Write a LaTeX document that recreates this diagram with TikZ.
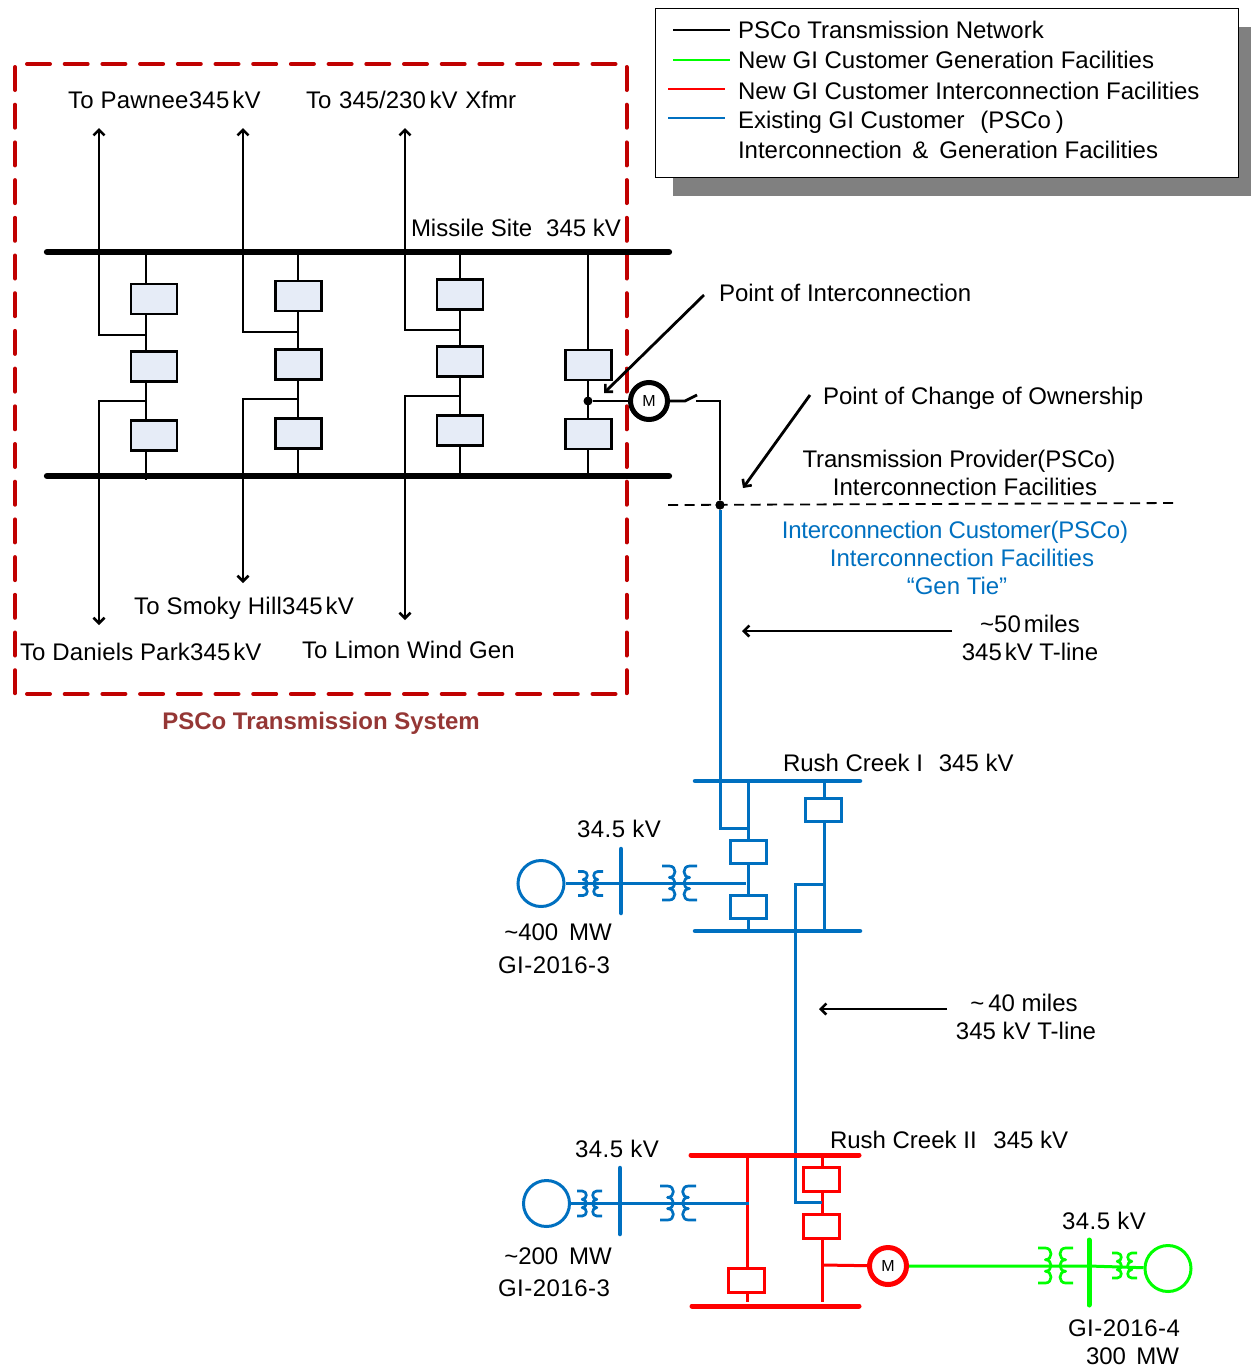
\documentclass[tikz,border=0pt]{standalone}
\usepackage{fontspec}
\setmainfont{Liberation Sans}
\newfontfamily\lsp[LetterSpace=2]{Liberation Sans}
\newfontfamily\lsa[LetterSpace=1.1]{Liberation Sans}
\newfontfamily\lsb[LetterSpace=.65]{Liberation Sans}
\newfontfamily\lsn[LetterSpace=-.6]{Liberation Sans}
\newfontfamily\lsm[LetterSpace=-1.1]{Liberation Sans}
\usetikzlibrary{arrows.meta}
\definecolor{dkred}{HTML}{C00000}
\definecolor{brk}{HTML}{E6ECF7}
\definecolor{cblue}{HTML}{0070C0}
\definecolor{cgreen}{HTML}{00FF00}
\definecolor{cred}{HTML}{FF0000}
\definecolor{sysred}{HTML}{953735}
\definecolor{shadow}{HTML}{808080}
\tikzset{
  x=1pt,y=-1pt,
  >={Straight Barb[length=5.5pt,width=11pt,line width=2.6pt]},
  lbl/.style={inner sep=0pt,outer sep=0pt,anchor=west,text height=17pt,text depth=0pt,font=\fontsize{24}{30}\selectfont},
  ctr/.style={lbl,anchor=center},
  blk/.style={draw=black,line width=2.8pt},
  arr/.style={blk,->},
  blu/.style={draw=cblue,line width=3pt},
  rd/.style={draw=cred,line width=3pt},
  grn/.style={draw=cgreen,line width=3pt},
  bbus/.style={draw=black,line width=6.3pt,line cap=round},
  blubus/.style={draw=cblue,line width=4.5pt,line cap=round},
  redbus/.style={draw=cred,line width=5pt,line cap=round},
  gbus/.style={draw=cgreen,line width=5pt,line cap=round},
  bkr/.style={draw=black,fill=brk,line width=2.8pt,minimum width=46pt,minimum height=30pt,inner sep=0pt},
  bkrb/.style={draw=cblue,fill=white,line width=3pt,minimum width=36pt,minimum height=23pt,inner sep=0pt},
  bkrr/.style={draw=cred,fill=white,line width=3pt,minimum width=36pt,minimum height=24pt,inner sep=0pt},
  gen/.style={circle,fill=white,line width=3pt,minimum size=46pt,inner sep=0pt},
  mtr/.style={circle,fill=white,line width=5pt,minimum size=37pt,inner sep=0pt,font=\fontsize{16}{18}\selectfont},
  dot/.style={circle,fill=black,minimum size=9pt,inner sep=0pt},
  xf/.pic={
    \draw[line width=2.7pt,line join=round] (-1,-1) -- (-.58,-1)
      .. controls (-.15,-1) and (-.15,-.33) .. (-.58,-.33)
      .. controls (-.15,-.33) and (-.15,.33) .. (-.58,.33)
      .. controls (-.15,.33) and (-.15,1) .. (-.58,1) -- (-1,1);
    \draw[line width=2.7pt,line join=round] (1,-1) -- (.58,-1)
      .. controls (.15,-1) and (.15,-.33) .. (.58,-.33)
      .. controls (.15,-.33) and (.15,.33) .. (.58,.33)
      .. controls (.15,.33) and (.15,1) .. (.58,1) -- (1,1);
  }
}
\begin{document}
\begin{tikzpicture}
\path[use as bounding box] (0,0) rectangle (1251,1369);
% legend
\fill[shadow] (673,27) rectangle (1251,196);
\node[draw=black,fill=white,line width=1.5pt,minimum width=583pt,minimum height=169pt,inner sep=0pt,anchor=north west] (legend) at (654.5,7.5) {};
\foreach \n/\c/\a/\b/\y in {lk/black/673/730/30,lg/cgreen/673/730/60,lr/cred/668/725/89,lb/cblue/668/725/118}{
  \coordinate (\n a) at (\a,\y); \coordinate (\n b) at (\b,\y);
  \draw[draw=\c,line width=2.5pt] (\n a) -- (\n b);
}
\node[lbl] (t1) at (738,29.5) {PSCo Transmission Network};
\node[lbl] (t2) at (738,60) {New GI Customer Generation Facilities};
\node[lbl] (t3) at (738,90.5) {New GI Customer Interconnection Facilities};
\node[lbl] (t4) at (738,120) {Existing GI Customer\hspace{.65em}(PSCo\hspace{.2em})};
\node[lbl] (t5) at (738,150) {Interconnection\hspace{.15em} \&\hspace{.18em} Generation Facilities};
% system boundary
\tikzset{bnd/.style={dkred,line width=4pt,line cap=round,dash pattern=on 23pt off 14.7pt}}
\coordinate (ctl) at (27,64); \coordinate (ctr) at (627,64);
\coordinate (crt) at (626.5,67); \coordinate (crb) at (626.5,694);
\coordinate (cbl) at (27,694); \coordinate (cbr) at (627,694);
\coordinate (clt) at (15,67); \coordinate (clb) at (15,694);
\draw[bnd] (ctl) -- (ctr); \draw[bnd] (crt) -- (crb); \draw[bnd] (cbl) -- (cbr); \draw[bnd] (clt) -- (clb);
% buses
\coordinate (TL) at (47,252); \coordinate (TR) at (669,252);
\coordinate (BL) at (47,476); \coordinate (BR) at (669,476);
% feeders and stems
\coordinate (c1t) at (146,252); \coordinate (c1b) at (146,480);
\coordinate (c2t) at (298,252); \coordinate (c2b) at (298,476);
\coordinate (c3t) at (460,252); \coordinate (c3b) at (460,476);
\coordinate (c4t) at (588,252); \coordinate (c4b) at (588,476);
\draw[blk] (c1t) -- (c1b); \draw[blk] (c2t) -- (c2b); \draw[blk] (c3t) -- (c3b); \draw[blk] (c4t) -- (c4b);
\coordinate (a1) at (99,128); \coordinate (a1j) at (146,335);
\coordinate (a2) at (243,128); \coordinate (a2j) at (298,332);
\coordinate (a3) at (405,128); \coordinate (a3j) at (460,330);
\draw[blk,<-] (a1) |- (a1j); \draw[blk,<-] (a2) |- (a2j); \draw[blk,<-] (a3) |- (a3j);
\coordinate (d1) at (99,625); \coordinate (d1j) at (146,401);
\coordinate (d2) at (243,583); \coordinate (d2j) at (298,399);
\coordinate (d3) at (405,620); \coordinate (d3j) at (460,396);
\draw[blk,<-] (d1) |- (d1j); \draw[blk,<-] (d2) |- (d2j); \draw[blk,<-] (d3) |- (d3j);
\draw[bbus] (TL) -- (TR); \draw[bbus] (BL) -- (BR);
% breakers
\node[bkr] (k11) at (154,299) {}; \node[bkr] (k12) at (154,366.5) {}; \node[bkr] (k13) at (154,435.5) {};
\node[bkr] (k21) at (298.5,296) {}; \node[bkr] (k22) at (298.5,364.5) {}; \node[bkr] (k23) at (298.5,433.5) {};
\node[bkr] (k31) at (460,294.5) {}; \node[bkr] (k32) at (460,361.5) {}; \node[bkr] (k33) at (460,430.5) {};
\node[bkr] (k42) at (588.5,365) {}; \node[bkr] (k43) at (588.5,434) {};
% point of interconnection
\node[dot] (poi) at (588,401) {};
\node[mtr,draw=black] (m1) at (649,401) {M};
\coordinate (sw1) at (685,401); \coordinate (sw2) at (697,395); \coordinate (sw3) at (696,401);
\coordinate (cn) at (720,401);
\node[dot] (poco) at (720,505) {};
\draw[blk] (poi) -- (m1);
\draw[blk] (m1) -- (sw1) -- (sw2);
\draw[blk] (sw3) -- (cn) -- (poco);
\coordinate (dl) at (668,505); \coordinate (dr) at (1178,503);
\draw[black,line width=1.8pt,dash pattern=on 10pt off 6.5pt] (dl) -- (dr);
\node[dot] (pocotop) at (poco) {};
\coordinate (p1) at (704,295); \coordinate (p2) at (604,393);
\coordinate (q1) at (810,395); \coordinate (q2) at (743,488);
\draw[arr] (p1) -- (p2); \draw[arr] (q1) -- (q2);
\coordinate (r1) at (952,631); \coordinate (r2) at (742,631);
\coordinate (s1) at (947,1009); \coordinate (s2) at (819,1009);
\draw[arr] (r1) -- (r2); \draw[arr] (s1) -- (s2);
% Rush Creek I
\coordinate (u1L) at (695,781); \coordinate (u1R) at (860,781);
\coordinate (l1L) at (695,931); \coordinate (l1R) at (860,931);
\coordinate (v1j) at (748,828); \coordinate (v1t) at (748,781); \coordinate (v1b) at (748,931);
\coordinate (v2t) at (824,781); \coordinate (v2b) at (824,931); \coordinate (v2j) at (824,884);
\coordinate (tl) at (795,884); \coordinate (tm) at (795,1202); \coordinate (tj) at (822,1202);
\draw[blu] (poco) |- (v1j);
\draw[blu] (v1t) -- (v1b); \draw[blu] (v2t) -- (v2b);
\draw[blu] (v2j) -- (tl) -- (tm) -- (tj);
\draw[blubus] (u1L) -- (u1R); \draw[blubus] (l1L) -- (l1R);
\node[bkrb] (b1) at (748,851.5) {}; \node[bkrb] (b2) at (748,906.5) {}; \node[bkrb] (b3) at (823,809.5) {};
% generator 1
\node[gen,draw=cblue] (g1) at (541,883.5) {};
\coordinate (e1) at (746,883.5);
\draw[blu] (g1) -- (e1);
\coordinate (v1u) at (621,849); \coordinate (v1d) at (621,913);
\draw[blubus] (v1u) -- (v1d);
\pic[cblue,xscale=12.5,yscale=12] at (590.5,883.5) {xf};
\pic[cblue,xscale=17.5,yscale=17] at (679.5,883) {xf};
% Rush Creek II
\coordinate (u2L) at (691,1155); \coordinate (u2R) at (859,1155);
\coordinate (l2L) at (692,1306); \coordinate (l2R) at (859,1306);
\coordinate (w1t) at (747,1155); \coordinate (w1b) at (747,1302);
\coordinate (w2t) at (822,1155); \coordinate (w2b) at (822,1302); \coordinate (w2j) at (822,1265);
\draw[rd] (w1t) -- (w1b); \draw[rd] (w2t) -- (w2b);
\draw[redbus] (u2L) -- (u2R); \draw[redbus] (l2L) -- (l2R);
\coordinate (tn) at (795,1160);
\draw[blu] (tn) -- (tm) -- (tj);
\node[bkrr] (r1b) at (746,1280) {}; \node[bkrr] (r2b) at (821.5,1179.5) {}; \node[bkrr] (r3b) at (821.5,1226.5) {};
\node[mtr,draw=cred] (m2) at (888,1266) {M};
\draw[rd] (w2j) -- (m2);
% generator 2
\node[gen,draw=cblue] (g2) at (546.5,1203.5) {};
\coordinate (e2) at (749,1203.5);
\draw[blu] (g2) -- (e2);
\coordinate (v2u) at (620,1168); \coordinate (v2d) at (620,1234);
\draw[blubus] (v2u) -- (v2d);
\pic[cblue,xscale=12.5,yscale=12.5] at (589.5,1203.5) {xf};
\pic[cblue,xscale=18,yscale=17] at (678,1203) {xf};
% generator 3
\node[gen,draw=cgreen] (g3) at (1168,1268.5) {};
\coordinate (v3u) at (1089,1240); \coordinate (v3d) at (1089,1305);
\coordinate (gj) at (1089,1266);
\draw[grn] (m2) -- (gj) -- (g3);
\draw[gbus] (v3u) -- (v3d);
\pic[cgreen,xscale=17.5,yscale=17.5] at (1055.5,1265.5) {xf};
\pic[cgreen,xscale=12.5,yscale=12.5] at (1124.5,1265.5) {xf};
% labels
\node[lbl] (n1) at (68,100) {\lsa To Pawnee345\hspace{.12em}kV};
\node[lbl] (n2) at (306,100) {To\hspace{.05em} 345/230\hspace{.15em}kV\hspace{.05em} Xfmr};
\node[lbl] (n3) at (411,228) {Missile Site\hspace{.3em} 345 kV};
\node[lbl] (n4) at (719,293) {Point of Interconnection};
\node[lbl] (n5) at (823,396) {Point of Change of Ownership};
\node[ctr] (n6) at (959,459) {\lsn Transmission Provider(PSCo)};
\node[ctr] (n7) at (965,487) {Interconnection Facilities};
\node[ctr,text=cblue] (n8) at (955,530) {\lsm Interconnection Customer(PSCo)};
\node[ctr,text=cblue] (n9) at (962,558) {Interconnection Facilities};
\node[ctr,text=cblue] (n10) at (957,586) {“Gen Tie”};
\node[ctr] (n11) at (1030,624) {\textasciitilde50\hspace{.12em}miles};
\node[ctr] (n12) at (1030,652) {345\hspace{.12em}kV T-line};
\node[lbl] (n13) at (134,606) {\lsa To Smoky Hill345\hspace{.12em}kV};
\node[lbl] (n14) at (20,652) {\lsb To Daniels Park345\hspace{.12em}kV};
\node[lbl] (n15) at (302,650) {\lsb To Limon Wind Gen};
\node[ctr,text=sysred,font=\fontsize{24}{30}\selectfont\bfseries] (n16) at (321,720.5) {PSCo Transmission System};
\node[lbl] (n17) at (783,763) {Rush Creek I\hspace{.38em} 345 kV};
\node[lbl] (n18) at (577,829) {\lsp 34.5 kV};
\node[ctr] (n19) at (558,932) {\textasciitilde400\hspace{.17em} MW};
\node[ctr] (n20) at (554,965) {\lsp GI-2016-3};
\node[ctr] (n21) at (1024,1003) {\textasciitilde\,40 miles};
\node[ctr] (n22) at (1026,1031) {345 kV T-line};
\node[lbl] (n23) at (830,1140) {Rush Creek II\hspace{.42em} 345 kV};
\node[lbl] (n24) at (575,1149) {\lsp 34.5 kV};
\node[ctr] (n25) at (558,1256) {\textasciitilde200\hspace{.17em} MW};
\node[ctr] (n26) at (554,1288) {\lsp GI-2016-3};
\node[lbl] (n27) at (1062,1221) {\lsp 34.5 kV};
\node[ctr] (n28) at (1124,1328) {\lsp GI-2016-4};
\node[ctr] (n29) at (1132.5,1356) {300\hspace{.15em} MW};
\end{tikzpicture}
\end{document}
